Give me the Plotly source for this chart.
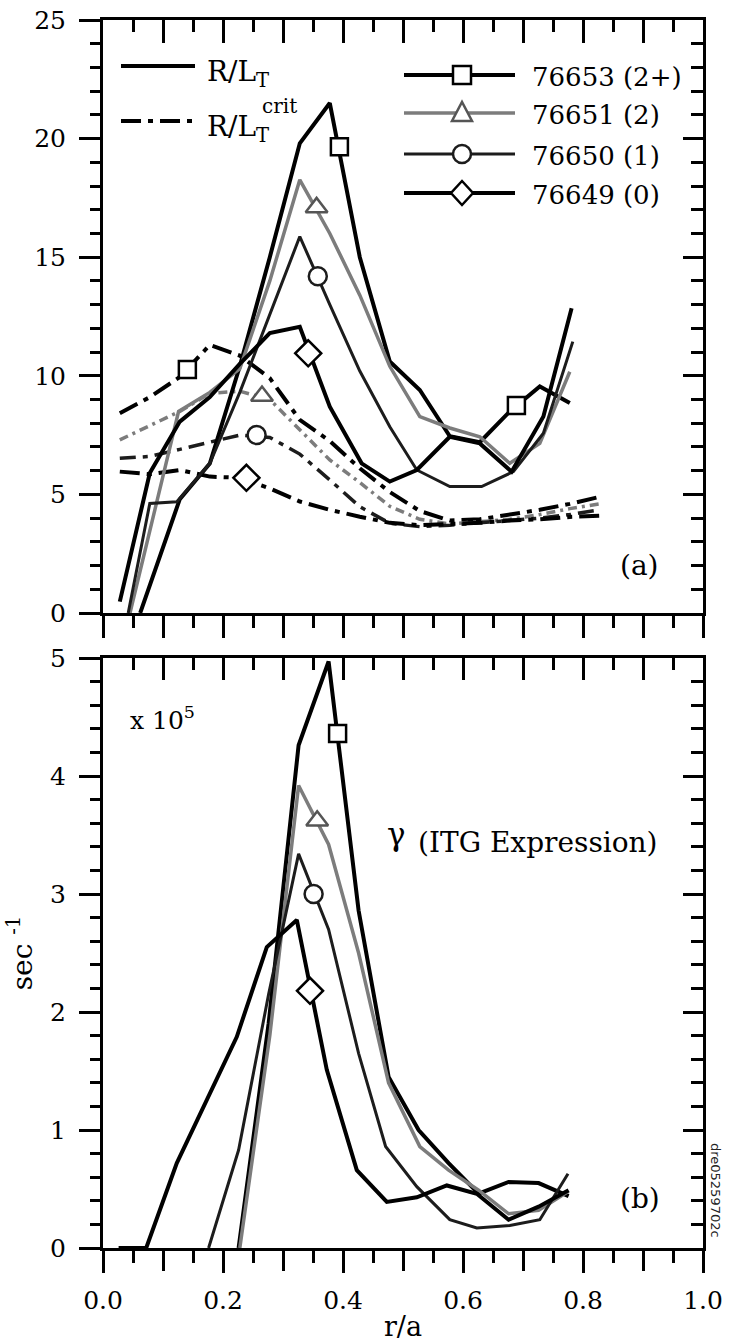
import plotly.graph_objects as go

# ---------------- data ----------------
shots = ["76653", "76651", "76650", "76649"]
shot_labels = ["76653 (2+)", "76651 (2)", "76650 (1)", "76649 (0)"]

# Panel (a): R/L_T (solid)
r_lt_76653 = [0.062, 0.128, 0.178, 0.228, 0.278, 0.328, 0.378, 0.428, 0.478, 0.528, 0.578, 0.628, 0.678, 0.728, 0.778]
lt_76653 = [0.0, 4.8, 6.3, 10.4, 15.0, 19.8, 21.5, 15.0, 10.6, 9.4, 7.45, 7.2, 8.5, 9.55, 8.85]
r_lt_76651 = [0.045, 0.126, 0.178, 0.228, 0.278, 0.328, 0.378, 0.428, 0.478, 0.528, 0.578, 0.628, 0.678, 0.728, 0.778]
lt_76651 = [0.0, 8.5, 9.3, 10.3, 14.0, 18.26, 16.0, 13.4, 10.4, 8.28, 7.8, 7.43, 6.31, 7.15, 10.17]
r_lt_76650 = [0.042, 0.078, 0.123, 0.178, 0.228, 0.278, 0.328, 0.378, 0.428, 0.478, 0.523, 0.578, 0.631, 0.684, 0.734, 0.783]
lt_76650 = [0.0, 4.62, 4.69, 6.3, 9.3, 12.6, 15.87, 13.0, 10.2, 7.85, 6.03, 5.33, 5.33, 5.96, 7.58, 11.44]
r_lt_76649 = [0.028, 0.078, 0.128, 0.178, 0.228, 0.278, 0.328, 0.378, 0.431, 0.478, 0.523, 0.578, 0.628, 0.681, 0.734, 0.781]
lt_76649 = [0.48, 5.9, 8.07, 9.1, 10.5, 11.8, 12.07, 8.7, 6.31, 5.54, 6.03, 7.43, 7.15, 5.96, 8.28, 12.85]

# Panel (a): R/L_T^crit (dash-dot)
r_crit = [0.028, 0.078, 0.128, 0.178, 0.228, 0.278, 0.328, 0.378, 0.428, 0.478, 0.528, 0.578, 0.628, 0.678, 0.728, 0.778, 0.828]
crit_76653 = [8.42, 9.1, 9.95, 11.3, 10.85, 9.9, 8.14, 7.25, 6.1, 5.1, 4.3, 3.9, 3.95, 4.15, 4.35, 4.6, 4.9]
crit_76651 = [7.3, 7.9, 8.5, 9.26, 9.35, 9.0, 7.7, 6.45, 5.5, 4.5, 3.95, 3.75, 3.85, 3.95, 4.15, 4.4, 4.6]
crit_76650 = [6.52, 6.6, 6.9, 7.2, 7.5, 7.4, 6.7, 5.61, 4.48, 3.78, 3.64, 3.7, 3.8, 3.9, 4.0, 4.15, 4.35]
crit_76649 = [5.96, 5.85, 6.03, 5.75, 5.7, 5.25, 4.7, 4.35, 4.06, 3.8, 3.7, 3.75, 3.8, 3.9, 3.95, 4.05, 4.1]

# Panel (a) marker positions (one symbol placed on each curve)
mk_lt_r = {"76653": [0.394, 0.689], "76651": [0.356], "76650": [0.358], "76649": [0.342]}
mk_lt_v = {"76653": [19.66, 8.75], "76651": [17.1], "76650": [14.2], "76649": [10.95]}
mk_crit_r = {"76653": [0.1406], "76651": [0.265], "76650": [0.256], "76649": [0.239]}
mk_crit_v = {"76653": [10.27], "76651": [9.15], "76650": [7.5], "76649": [5.7]}

# Panel (b): gamma (ITG expression), units of 1e5 s^-1
rb_76653 = [0.226, 0.276, 0.326, 0.376, 0.426, 0.476, 0.526, 0.576, 0.626, 0.676, 0.726, 0.776]
gb_76653 = [0.0, 1.9, 4.26, 4.97, 2.86, 1.45, 1.0, 0.72, 0.46, 0.56, 0.55, 0.44]
rb_76651 = [0.228, 0.278, 0.326, 0.376, 0.426, 0.476, 0.528, 0.576, 0.626, 0.676, 0.726, 0.776]
gb_76651 = [0.0, 1.8, 3.92, 3.42, 2.5, 1.40, 0.86, 0.66, 0.49, 0.29, 0.32, 0.48]
rb_76650 = [0.176, 0.226, 0.276, 0.326, 0.376, 0.426, 0.471, 0.523, 0.578, 0.623, 0.678, 0.728, 0.775]
gb_76650 = [0.0, 0.83, 2.15, 3.34, 2.7, 1.65, 0.86, 0.52, 0.24, 0.17, 0.19, 0.24, 0.63]
rb_76649 = [0.026, 0.072, 0.123, 0.173, 0.223, 0.273, 0.323, 0.373, 0.423, 0.473, 0.523, 0.573, 0.623, 0.676, 0.726, 0.776]
gb_76649 = [0.0, 0.0, 0.72, 1.25, 1.79, 2.55, 2.78, 1.51, 0.66, 0.39, 0.43, 0.53, 0.46, 0.24, 0.35, 0.49]

mk_g_r = {"76653": [0.391], "76651": [0.357], "76650": [0.351], "76649": [0.345]}
mk_g_v = {"76653": [4.36], "76651": [3.62], "76650": [3.0], "76649": [2.18]}

# tick positions
x_label_vals = [0.0, 0.2, 0.4, 0.6, 0.8, 1.0]
x_label_text = ["0.0", "0.2", "0.4", "0.6", "0.8", "1.0"]
x_odd_vals = [0.1, 0.3, 0.5, 0.7, 0.9]
x_major_vals = [0.0, 0.1, 0.2, 0.3, 0.4, 0.5, 0.6, 0.7, 0.8, 0.9, 1.0]

lt_r = {"76653": r_lt_76653, "76651": r_lt_76651, "76650": r_lt_76650, "76649": r_lt_76649}
lt_v = {"76653": lt_76653, "76651": lt_76651, "76650": lt_76650, "76649": lt_76649}
crit_v = {"76653": crit_76653, "76651": crit_76651, "76650": crit_76650, "76649": crit_76649}
g_r = {"76653": rb_76653, "76651": rb_76651, "76650": rb_76650, "76649": rb_76649}
g_v = {"76653": gb_76653, "76651": gb_76651, "76650": gb_76650, "76649": gb_76649}

# ---------------- styles ----------------
FONT = "DejaVu Serif"
style = {
    "76653": dict(color="#000000", width=4.0, symbol="square", size=17, dash="20px,7px,5px,7px", cw=4.0),
    "76651": dict(color="#7c7c7c", width=3.5, symbol="triangle-up", size=19, dash="9px,5px,3px,5px", cw=3.5),
    "76650": dict(color="#1c1c1c", width=3.0, symbol="circle", size=18, dash="16px,7px,5px,7px", cw=3.5),
    "76649": dict(color="#000000", width=4.0, symbol="diamond", size=20, dash="20px,7px,5px,7px", cw=4.0),
}

fig = go.Figure()


def line(x, y, xa, ya, color, width, dash="solid"):
    fig.add_trace(go.Scatter(x=x, y=y, xaxis=xa, yaxis=ya, mode="lines",
                             line=dict(color=color, width=width, dash=dash),
                             showlegend=False, hoverinfo="skip"))


def marks(x, y, xa, ya, s):
    fig.add_trace(go.Scatter(x=x, y=y, xaxis=xa, yaxis=ya, mode="markers",
                             marker=dict(symbol=s["symbol"], size=s["size"], color="white",
                                         line=dict(color=s["color"] if s["color"] != "#7c7c7c" else "#555555", width=2.5)),
                             showlegend=False, hoverinfo="skip", cliponaxis=False))


def ghost(x, y, xa, ya):
    # invisible trace so that the frame-only overlay axes get drawn
    fig.add_trace(go.Scatter(x=x, y=y, xaxis=xa, yaxis=ya, mode="lines", opacity=0,
                             line=dict(width=0), showlegend=False, hoverinfo="skip"))


# panel (a)
for k in shots:
    s = style[k]
    line(r_crit, crit_v[k], "x2", "y2", s["color"], s["cw"], s["dash"])
for k in shots:
    s = style[k]
    line(lt_r[k], lt_v[k], "x2", "y2", s["color"], s["width"])
for k in shots:
    s = style[k]
    marks(mk_crit_r[k], mk_crit_v[k], "x2", "y2", s)
    marks(mk_lt_r[k], mk_lt_v[k], "x2", "y2", s)

# panel (b)
for k in shots:
    s = style[k]
    line(g_r[k], g_v[k], "x", "y", s["color"], s["width"])
for k in shots:
    marks(mk_g_r[k], mk_g_v[k], "x", "y", style[k])

# overlay-axis helpers
ghost(rb_76649, gb_76649, "x3", "y")
ghost(rb_76649, gb_76649, "x5", "y")
ghost(rb_76649, gb_76649, "x", "y3")
ghost(r_crit, crit_76653, "x4", "y2")
ghost(r_crit, crit_76653, "x2", "y4")

# ---------------- layout geometry (pixels -> paper) ----------------
W, H = 730, 1342
L, R, T, B = 103, 27, 20, 94
PW, PH = W - L - R, H - T - B


def px(xp):
    return (xp - L) / PW


def py(yp):
    return (H - B - yp) / PH


top_dom = [py(613), 1.0]
bot_dom = [0.0, py(658)]

tickfont = dict(family=FONT, size=25, color="black")
TW = 2.5


def xax(**kw):
    d = dict(range=[0, 1], showline=True, linewidth=3, linecolor="black",
             tickmode="array", tickvals=x_major_vals,
             ticks="outside", ticklen=22, tickwidth=TW, tickcolor="black",
             minor=dict(tick0=0, dtick=0.05, ticks="outside", ticklen=12, tickwidth=TW, tickcolor="black"),
             showgrid=False, zeroline=False, tickfont=tickfont, fixedrange=True, showticklabels=False)
    d.update(kw)
    return d


def yax(rng, dt, mdt, **kw):
    d = dict(range=rng, showline=True, linewidth=3, linecolor="black",
             tickmode="linear", tick0=0, dtick=dt,
             ticks="outside", ticklen=21, tickwidth=TW, tickcolor="black",
             minor=dict(tick0=0, dtick=mdt, ticks="outside", ticklen=10, tickwidth=TW, tickcolor="black"),
             showgrid=False, zeroline=False, tickfont=tickfont, fixedrange=True,
             ticklabelstandoff=8)
    d.update(kw)
    return d


inside_minor_x = dict(tick0=0, dtick=0.05, ticks="inside", ticklen=12, tickwidth=TW, tickcolor="black")

fig.update_layout(
    width=W, height=H,
    margin=dict(l=L, r=R, t=T, b=B, autoexpand=False),
    paper_bgcolor="white", plot_bgcolor="white",
    showlegend=False,
    font=dict(family=FONT, color="black"),
    xaxis=xax(anchor="y", domain=[0, 1], tickvals=x_label_vals, ticktext=x_label_text,
              showticklabels=True, ticklabelstandoff=6,
              title=dict(text="r/a", font=dict(family=FONT, size=27, color="black"), standoff=6)),
    xaxis5=xax(anchor="y", overlaying="x", side="bottom", tickvals=x_odd_vals, showline=False,
               minor=dict(ticks="")),
    xaxis2=xax(anchor="y2", domain=[0, 1]),
    xaxis3=xax(anchor="y", overlaying="x", side="top", ticks="inside", minor=inside_minor_x),
    xaxis4=xax(anchor="y2", overlaying="x2", side="top", ticks="inside", ticklen=23, minor=inside_minor_x),
    yaxis=yax([0, 5], 1, 0.2, anchor="x", domain=bot_dom,
              title=dict(text="sec <sup>-1</sup>", font=dict(family=FONT, size=28, color="black"), standoff=10)),
    yaxis2=yax([0, 25], 5, 1, anchor="x2", domain=top_dom),
    yaxis3=yax([0, 5], 1, 0.2, anchor="x", overlaying="y", side="right", ticks="inside", ticklen=20,
               showticklabels=False,
               minor=dict(tick0=0, dtick=0.2, ticks="inside", ticklen=12, tickwidth=TW, tickcolor="black")),
    yaxis4=yax([0, 25], 5, 1, anchor="x2", overlaying="y2", side="right", ticks="inside", ticklen=20,
               showticklabels=False,
               minor=dict(tick0=0, dtick=1, ticks="inside", ticklen=12, tickwidth=TW, tickcolor="black")),
)

# ---------------- hand-drawn legend (paper coordinates) ----------------
shapes = []
annos = []

# left legend: line-style key
shapes.append(dict(type="line", xref="paper", yref="paper", x0=px(121), x1=px(195), y0=py(66), y1=py(66),
                   line=dict(color="black", width=4)))
shapes.append(dict(type="line", xref="paper", yref="paper", x0=px(121), x1=px(195), y0=py(121), y1=py(121),
                   line=dict(color="black", width=4, dash="20px,7px,5px,7px")))
annos.append(dict(text="R/L<sub>T</sub>", xref="paper", yref="paper", x=px(205), y=py(73),
                  xanchor="left", yanchor="middle", showarrow=False,
                  font=dict(family=FONT, size=28, color="black")))
annos.append(dict(text="R/L<sub>T</sub>", xref="paper", yref="paper", x=px(205), y=py(128),
                  xanchor="left", yanchor="middle", showarrow=False,
                  font=dict(family=FONT, size=28, color="black")))
annos.append(dict(text="crit", xref="paper", yref="paper", x=px(260), y=py(106),
                  xanchor="left", yanchor="middle", showarrow=False,
                  font=dict(family=FONT, size=20, color="black")))

# right legend: shots
leg_y = [75, 113, 154, 193]
for k, lab, yy in zip(shots, shot_labels, leg_y):
    s = style[k]
    shapes.append(dict(type="line", xref="paper", yref="paper", x0=px(404), x1=px(515), y0=py(yy), y1=py(yy),
                       line=dict(color=s["color"], width=s["width"])))
    mc = s["color"] if s["color"] != "#7c7c7c" else "#555555"
    base = dict(xref="paper", yref="paper", xsizemode="pixel", ysizemode="pixel",
                xanchor=px(462), yanchor=py(yy), fillcolor="white", line=dict(color=mc, width=2.5))
    if s["symbol"] == "square":
        shapes.append(dict(type="rect", x0=-9, x1=9, y0=-9, y1=9, **base))
    elif s["symbol"] == "circle":
        shapes.append(dict(type="circle", x0=-9, x1=9, y0=-9, y1=9, **base))
    elif s["symbol"] == "triangle-up":
        shapes.append(dict(type="path", path="M -10,-8 L 10,-8 L 0,11 Z", **base))
    else:
        shapes.append(dict(type="path", path="M 0,-12 L 11,0 L 0,12 L -11,0 Z", **base))
    annos.append(dict(text=lab, xref="paper", yref="paper", x=px(530), y=py(yy + 2),
                      xanchor="left", yanchor="middle", showarrow=False,
                      font=dict(family=FONT, size=26, color="black")))

# panel labels and notes
annos.append(dict(text="(a)", xref="paper", yref="paper", x=px(639), y=py(565), xanchor="center", yanchor="middle",
                  showarrow=False, font=dict(family=FONT, size=28, color="black")))
annos.append(dict(text="(b)", xref="paper", yref="paper", x=px(640), y=py(1198), xanchor="center", yanchor="middle",
                  showarrow=False, font=dict(family=FONT, size=28, color="black")))
annos.append(dict(text="x 10<sup>5</sup>", xref="paper", yref="paper", x=px(128), y=py(718), xanchor="left",
                  yanchor="middle", showarrow=False, font=dict(family=FONT, size=25, color="black")))
annos.append(dict(text="γ", xref="paper", yref="paper", x=px(385), y=py(834), xanchor="left",
                  yanchor="middle", showarrow=False, font=dict(family=FONT, size=31, color="black")))
annos.append(dict(text="(ITG Expression)", xref="paper", yref="paper", x=px(416), y=py(842), xanchor="left",
                  yanchor="middle", showarrow=False, font=dict(family=FONT, size=28, color="black")))
annos.append(dict(text="dre05259702c", xref="paper", yref="paper", x=px(716), y=py(1190), xanchor="center",
                  yanchor="middle", textangle=90, showarrow=False,
                  font=dict(family="DejaVu Sans", size=13, color="#222222")))

fig.update_layout(shapes=shapes, annotations=annos)

fig.write_html("out.html")
